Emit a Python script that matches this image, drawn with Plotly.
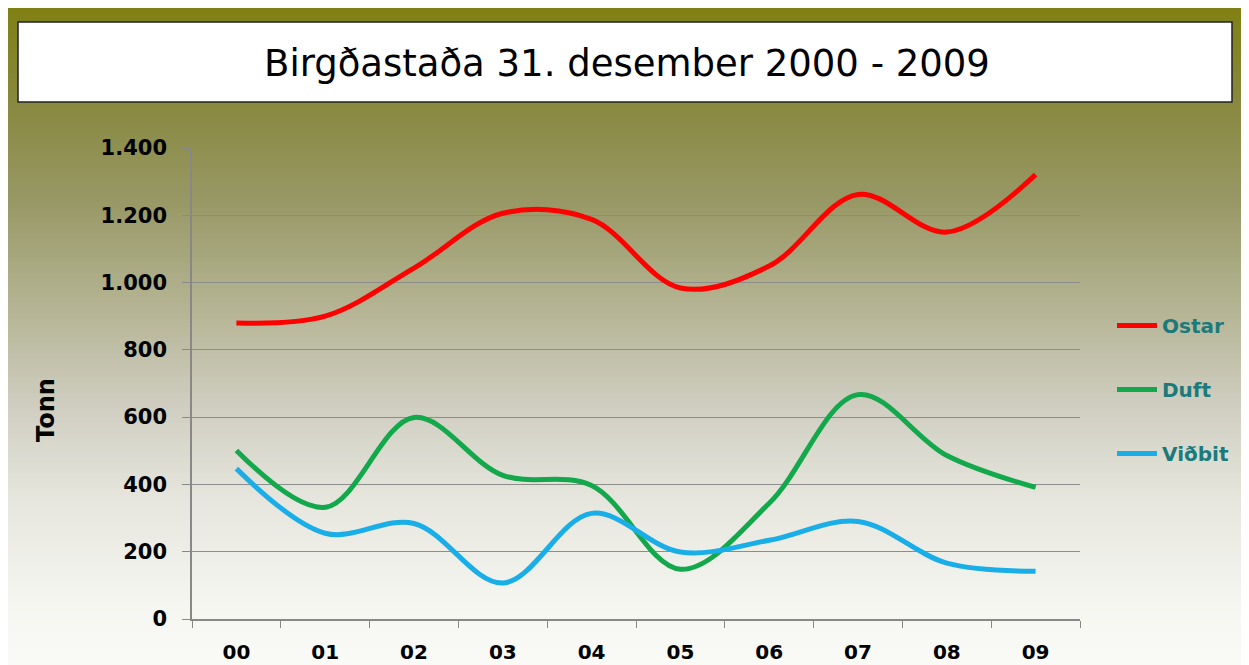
import plotly.graph_objects as go

# ---- data ----
years = ["00", "01", "02", "03", "04", "05", "06", "07", "08", "09"]
ostar = [880, 900, 1043, 1206, 1188, 984, 1049, 1262, 1150, 1321]
duft = [501, 332, 599, 427, 397, 148, 344, 667, 486, 391]
vidbit = [447, 255, 284, 107, 314, 199, 234, 290, 166, 142]
y_ticks = [0, 200, 400, 600, 800, 1000, 1200, 1400]

series = [("Ostar", ostar, "#ff0000"),
          ("Duft", duft, "#13a84b"),
          ("Viðbit", vidbit, "#1aaee8")]

OFF = 8  # page body margin
W, H = 1249 - OFF, 665 - OFF
L, R, T, B = 192 - OFF, 1080 - OFF, 148 - OFF, 619 - OFF  # plot area in figure pixels
PW, PH = R - L, B - T


def px_x(p):
    """page pixel x -> paper coordinate"""
    return (p - OFF - L) / PW


def px_y(p):
    """page pixel y -> paper coordinate"""
    return (B - (p - OFF)) / PH


fig = go.Figure()
for i, (name, vals, col) in enumerate(series):
    fig.add_trace(go.Scatter(
        x=years, y=vals, name=name, mode="lines",
        line=dict(color=col, width=5, shape="spline", smoothing=1.0),
        legendgroup=name, legendrank=i,
    ))

# background gradient (strips), page pixel stops
stops = [(8, (128, 128, 20)), (100, (136, 136, 62)), (200, (152, 152, 102)),
         (300, (178, 178, 144)), (400, (206, 204, 190)), (500, (230, 230, 222)),
         (600, (245, 245, 240)), (665, (250, 250, 247))]


def col_at(py):
    for (y0, c0), (y1, c1) in zip(stops[:-1], stops[1:]):
        if y0 <= py <= y1:
            t = (py - y0) / (y1 - y0)
            return "rgb(%d,%d,%d)" % tuple(round(a + (b - a) * t) for a, b in zip(c0, c1))
    return "rgb(%d,%d,%d)" % stops[-1][1]


shapes = []
step = 5
py = 8
while py < 665:
    py2 = min(py + step, 665)
    shapes.append(dict(type="rect", xref="paper", yref="paper", layer="below",
                       x0=px_x(8), x1=px_x(1242), y0=px_y(py2 + 0.6), y1=px_y(py),
                       fillcolor=col_at((py + py2) / 2), line=dict(width=0)))
    py = py2

# title box
shapes.append(dict(type="rect", xref="paper", yref="paper", layer="below",
                   x0=px_x(18), x1=px_x(1232), y0=px_y(102), y1=px_y(22),
                   fillcolor="white", line=dict(color="#222222", width=1.5)))

fig.update_layout(
    width=W, height=H,
    margin=dict(l=L, r=W - R, t=T, b=H - B, pad=0, autoexpand=False),
    paper_bgcolor="rgba(0,0,0,0)", plot_bgcolor="rgba(0,0,0,0)",
    separators=",.",
    shapes=shapes,
    showlegend=True,
    legend=dict(x=px_x(1112), y=px_y(306), xanchor="left", yanchor="top",
                bgcolor="rgba(0,0,0,0)", traceorder="grouped", tracegroupgap=35,
                font=dict(family="DejaVu Sans", size=20, color="#1b7a7a", weight="bold"),
                itemwidth=40),
    annotations=[
        dict(text="Birgðastaða 31. desember 2000 - 2009", xref="paper", yref="paper",
             x=px_x(627), y=px_y(63), xanchor="center", yanchor="middle", showarrow=False,
             font=dict(family="DejaVu Sans", size=37, color="black")),
        dict(text="Tonn", xref="paper", yref="paper", x=px_x(46), y=px_y(410),
             xanchor="center", yanchor="middle", showarrow=False, textangle=-90,
             font=dict(family="DejaVu Sans", size=24, color="black", weight="bold")),
    ],
)

fig.update_xaxes(
    type="category", categoryorder="array", categoryarray=years,
    range=[-0.5, 9.5], tickson="boundaries", ticks="outside", ticklen=7,
    tickcolor="#888888", showline=True, linecolor="#888888", linewidth=1.5,
    showgrid=False, zeroline=False, ticklabelstandoff=14, automargin=False,
    tickfont=dict(family="DejaVu Sans", size=20, color="black", weight="bold"),
)
fig.update_yaxes(
    range=[0, 1400], tickvals=y_ticks, tickformat=",", ticks="outside", ticklen=8,
    tickcolor="#888888", showline=True, linecolor="#888888", linewidth=1.5,
    showgrid=True, gridcolor="#8c8c8c", gridwidth=1, zeroline=False,
    ticklabelstandoff=11, automargin=False,
    tickfont=dict(family="DejaVu Sans", size=21, color="black", weight="bold"),
)

fig.write_html("out.html")
